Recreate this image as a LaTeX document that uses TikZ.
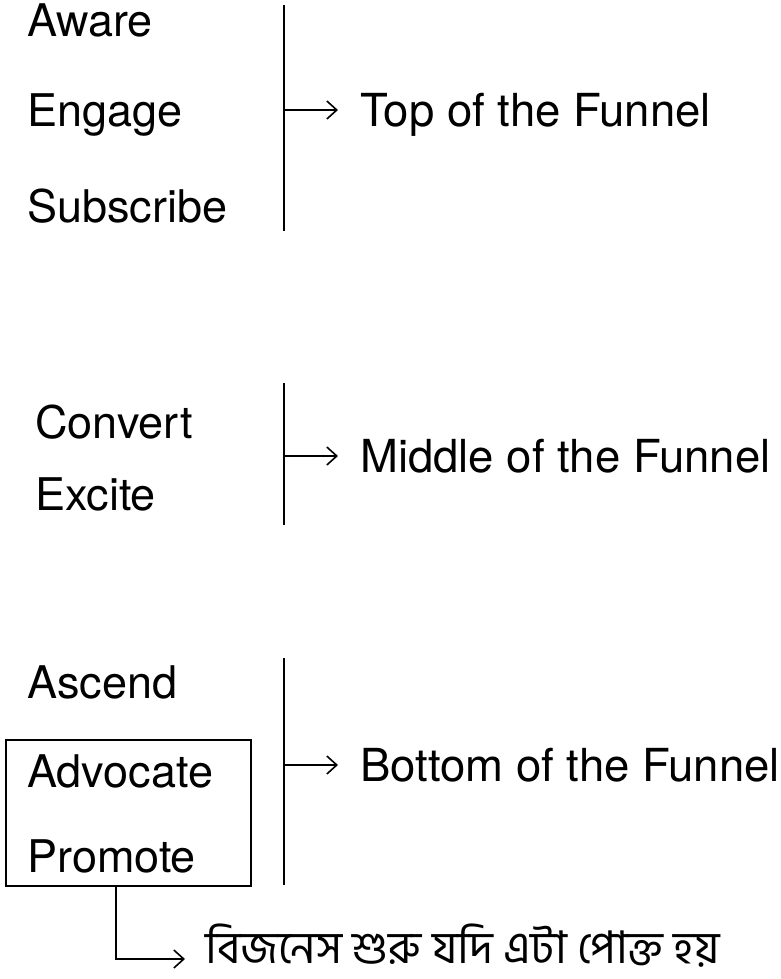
\documentclass[tikz,border=0pt]{standalone}
\usepackage{fontspec}
\setmainfont{TeX Gyre Heros}
\newfontfamily\bengalifont[Script=Bengali]{Hind Siliguri}
\usetikzlibrary{arrows.meta,calc}

\tikzset{
  stage/.style={inner sep=0pt, anchor=base west, font=\fontsize{45}{50}\selectfont},
  funnel/.style={inner xsep=22pt, inner ysep=0pt, anchor=west,
                 text height=32.3pt, text depth=0pt,
                 font=\fontsize{45.5}{50}\selectfont},
  bar/.style={line width=1.6pt},
  pointer/.style={line width=1.6pt, -{Straight Barb[length=10pt,width=18pt,line width=1.6pt]}},
  frame/.style={draw, line width=1.6pt, inner sep=0pt}
}

\begin{document}
\begin{tikzpicture}[x=1pt,y=1pt]
\useasboundingbox (0,0) rectangle (780,-979);

% ---- top of the funnel ----
\node[stage] (aware)     at (27,-37)  {Aware};
\node[stage] (engage)    at (27,-127) {Engage};
\node[stage] (subscribe) at (27,-222) {Subscribe};
\coordinate (t1) at (284,-5);
\coordinate (t2) at (284,-231);
\coordinate (ta) at (284,-110);
\draw[bar] (t1) -- (t2);
\node[funnel] (tofu) at (338,-110) {Top of the Funnel};
\draw[pointer] (ta) -- (tofu.west);

% ---- middle of the funnel ----
\node[stage] (convert) at (35,-438) {Convert};
\node[stage] (excite)  at (35,-510) {Excite};
\coordinate (m1) at (284,-383);
\coordinate (m2) at (284,-525);
\coordinate (ma) at (284,-456);
\draw[bar] (m1) -- (m2);
\node[funnel] (mofu) at (338,-456) {Middle of the Funnel};
\draw[pointer] (ma) -- (mofu.west);

% ---- bottom of the funnel ----
\node[stage] (ascend)   at (27,-698) {Ascend};
\node[stage] (advocate) at (27,-787) {Advocate};
\node[stage] (promote)  at (27,-872) {Promote};
\node[frame, minimum width=245pt, minimum height=146pt, anchor=north west]
  (box) at (5,-739) {};
\coordinate (b1) at (284,-658);
\coordinate (b2) at (284,-885);
\coordinate (ba) at (284,-765);
\draw[bar] (b1) -- (b2);
\node[funnel] (bofu) at (338,-765) {Bottom of the Funnel};
\draw[pointer] (ba) -- (bofu.west);

% ---- note under the framed stages ----
\node[inner xsep=20pt, inner ysep=0pt, anchor=west, text height=8pt, text depth=0pt,
      font=\bengalifont\fontsize{45}{50}\selectfont]
  (note) at (185,-959) {বিজনেস শুরু যদি এটা পোক্ত হয়};
\coordinate (bs) at ($(box.south west)+(111,0)$);
\draw[pointer] (bs) |- (note.west);
\end{tikzpicture}
\end{document}
